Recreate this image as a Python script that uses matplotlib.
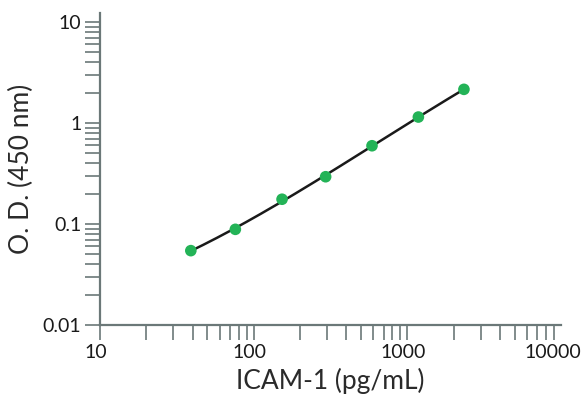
import numpy as np
import matplotlib
matplotlib.use("Agg")
from matplotlib import pyplot as plt
from matplotlib.ticker import LogLocator, FixedLocator, NullFormatter
from matplotlib.transforms import ScaledTranslation

# Standard curve values
conc = [39, 76, 153, 294, 589, 1180, 2335]
od = [0.0545, 0.0886, 0.176, 0.294, 0.596, 1.147, 2.157]

x_ticks = [10, 100, 1000, 10000]
x_labels = ["10", "100", "1000", "10000"]
y_ticks = [0.01, 0.1, 1, 10]
y_labels = ["0.01", "0.1", "1", "10"]

axis_col = "#6b7878"
plt.rcParams['font.family'] = ['Lato', 'DejaVu Sans']

fig = plt.figure(figsize=(5.84, 4.03), dpi=100)
ax = fig.add_axes([100/584, 78/403, 461/584, 312/403])

# smooth fit in log-log space
lx, ly = np.log10(conc), np.log10(od)
coef = np.polyfit(lx, ly, 3)
xs = np.linspace(lx[0], lx[-1], 200)
ax.plot(10**xs, 10**np.polyval(coef, xs), color="#1a1a1a", lw=1.8, zorder=2)
ax.scatter(conc, od, s=70, color="#23b357", zorder=3, edgecolors="none")

ax.set_xscale("log")
ax.set_yscale("log")
ax.set_xlim(10, 10000)
ax.set_ylim(0.01, 12.3)

ax.xaxis.set_major_locator(FixedLocator(x_ticks))
ax.set_xticklabels(x_labels)
ax.yaxis.set_major_locator(FixedLocator(y_ticks))
ax.set_yticklabels(y_labels)
ax.xaxis.set_minor_locator(LogLocator(base=10, subs=np.arange(2, 10)))
ax.yaxis.set_minor_locator(LogLocator(base=10, subs=np.arange(2, 10)))
ax.xaxis.set_minor_formatter(NullFormatter())
ax.yaxis.set_minor_formatter(NullFormatter())

for s in ["top", "right"]:
    ax.spines[s].set_visible(False)
for s in ["left", "bottom"]:
    ax.spines[s].set_color(axis_col)
    ax.spines[s].set_linewidth(1.6)

ax.tick_params(which="both", direction="out", length=10.5, width=1.2, color=axis_col)
ax.tick_params(which="major", labelsize=14, labelcolor="#1a1a1a", pad=3)

# no tick mark at the right end of the x axis
ax.xaxis.get_major_ticks()[-1].tick1line.set_visible(False)

# x tick labels sit slightly left of their ticks
shift = ScaledTranslation(-4/100, 0, fig.dpi_scale_trans)
for lab in ax.get_xticklabels():
    lab.set_transform(lab.get_transform() + shift)
ax.get_xticklabels()[-1].set_transform(ax.get_xticklabels()[-1].get_transform()
                                       + ScaledTranslation(-4/100, 0, fig.dpi_scale_trans))

ax.set_xlabel("ICAM-1 (pg/mL)", fontsize=19, color="#2a2a2a", labelpad=5)
ax.set_ylabel("O. D. (450 nm)", fontsize=19, color="#2a2a2a", labelpad=6)

fig.savefig("out.png", dpi=100)
